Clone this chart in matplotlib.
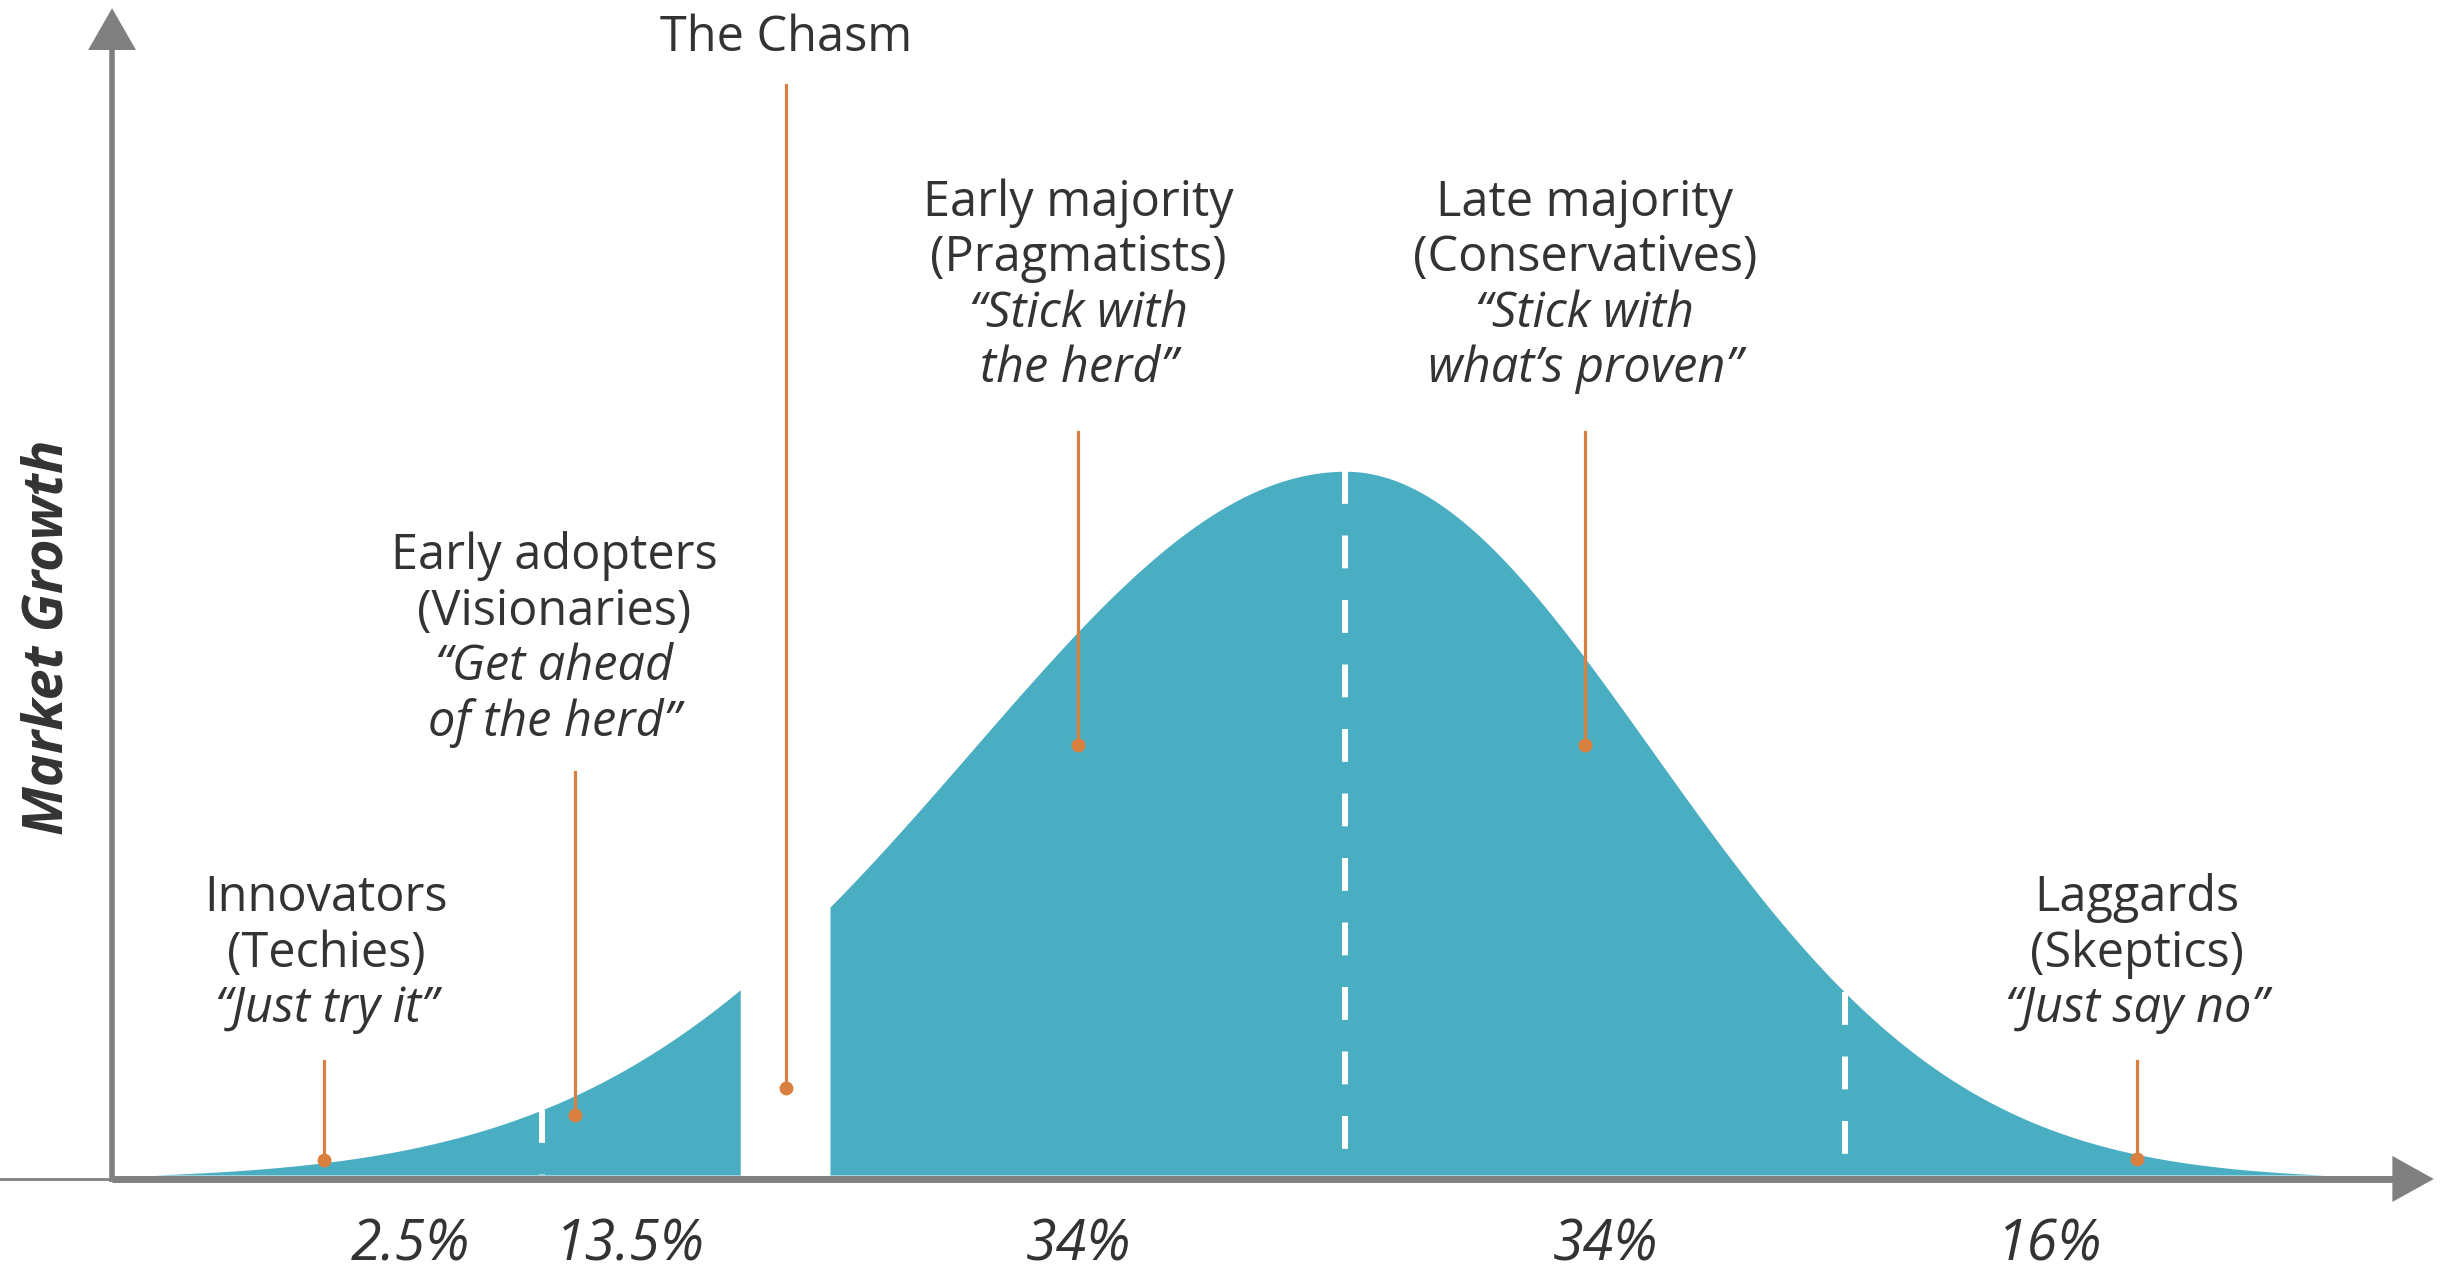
import numpy as np
import matplotlib.pyplot as plt

# adopter groups, left to right
groups = ["Innovators", "Early adopters", "Early majority", "Late majority", "Laggards"]
nicknames = ["(Techies)", "(Visionaries)", "(Pragmatists)", "(Conservatives)", "(Skeptics)"]
mottos = [
    ["\u201cJust try it\u201d"],
    ["\u201cGet ahead", "of the herd\u201d"],
    ["\u201cStick with", "the herd\u201d"],
    ["\u201cStick with", "what\u2019s proven\u201d"],
    ["\u201cJust say no\u201d"],
]
shares = [2.5, 13.5, 34, 34, 16]
share_x = [12.95, 22.5, 42.0, 64.9, 84.2]

# bell curve on a 0..100 time axis, peak height 100
peak_x = 53.6
spread_left = 16.2
spread_right = 13.3
tail_floor = 0.6   # curve meets the axis instead of running along it
boundaries = [18.7, 53.6, 75.3]
chasm = (27.3, 31.2)

# label layout (x in time units, y in curve-height units)
label_x = [9.3, 19.2, 42.0, 64.0, 88.0]
label_top = [37.3, 85.6, 135.5, 135.5, 37.3]
pointer_x = [9.2, 20.1, 42.0, 64.0, 88.0]
pointer_top = [16.1, 56.9, 104.9, 104.9, 16.1]
pointer_dot = [2.1, 8.5, 60.7, 60.7, 2.3]

TEAL = "#4aaec3"
ORANGE = "#d98040"
GRAY = "#808080"
TEXT = "#333333"
FONT = "Open Sans"
LINE_STEP = 7.85


def bell(x):
    s = np.where(x < peak_x, spread_left, spread_right)
    y = 100 * np.exp(-0.5 * ((x - peak_x) / s) ** 2)
    return np.clip(y - tail_floor, 0, None)


fig = plt.figure(figsize=(24.63, 12.75), dpi=100)
ax = fig.add_axes([0, 0, 1, 1])
ax.set_xlim(-4.87, 102.17)
ax.set_ylim(-14.12, 165.96)
ax.axis("off")

# curve, split by the chasm
left = np.linspace(0, chasm[0], 500)
right = np.linspace(chasm[1], 100, 900)
ax.fill_between(left, 0, bell(left), color=TEAL, lw=0, zorder=1)
ax.fill_between(right, 0, bell(right), color=TEAL, lw=0, zorder=1)

# segment borders, dashed from the curve down
for b in boundaries:
    ax.plot([b, b], [float(bell(np.array(b))), 0], color="white", lw=4.3,
            dashes=(5.5, 5.3), solid_capstyle="butt", zorder=2)

# axes with arrow heads
ax.plot([-4.87, 0], [-0.56, -0.56], color=GRAY, lw=2, zorder=3)
ax.plot([0, 99.2], [-0.56, -0.56], color=GRAY, lw=5, solid_capstyle="butt", zorder=3)
ax.fill([99.1, 100.9, 99.1], [2.7, -0.56, -3.8], color=GRAY, lw=0, zorder=3)
ax.plot([0, 0], [-1.0, 159.5], color=GRAY, lw=4, solid_capstyle="butt", zorder=3)
ax.fill([-1.04, 0, 1.04], [158.9, 164.8, 158.9], color=GRAY, lw=0, zorder=3)

ax.text(-2.78, 76.0, "Market Growth", rotation=90, ha="center", va="center",
        family=FONT, fontsize=40, fontweight="bold", style="italic", color=TEXT)

# group labels and pointers
for i, name in enumerate(groups):
    lines = [(name, "normal"), (nicknames[i], "normal")] + [(m, "italic") for m in mottos[i]]
    for k, (txt, st) in enumerate(lines):
        ax.text(label_x[i], label_top[i] - k * LINE_STEP, txt, ha="center", va="baseline",
                family=FONT, fontsize=35, style=st, color=TEXT, zorder=4)
    ax.plot([pointer_x[i], pointer_x[i]], [pointer_top[i], pointer_dot[i]],
            color=ORANGE, lw=2.3, zorder=4)
    ax.plot(pointer_x[i], pointer_dot[i], "o", color=ORANGE, ms=10, mew=0, zorder=4)

# the chasm
chasm_x = 29.3
ax.text(chasm_x, 158.8, "The Chasm", ha="center", va="baseline",
        family=FONT, fontsize=35, color=TEXT)
ax.plot([chasm_x, chasm_x], [154.0, 12.3], color=ORANGE, lw=2.3, zorder=4)
ax.plot(chasm_x, 12.3, "o", color=ORANGE, ms=10, mew=0, zorder=4)

# share of adopters per segment
for x, s in zip(share_x, shares):
    ax.text(x, -14.0, f"{s:g}%", ha="center", va="bottom",
            family=FONT, fontsize=40, style="italic", color=TEXT)

fig.savefig("out.png", dpi=100)
